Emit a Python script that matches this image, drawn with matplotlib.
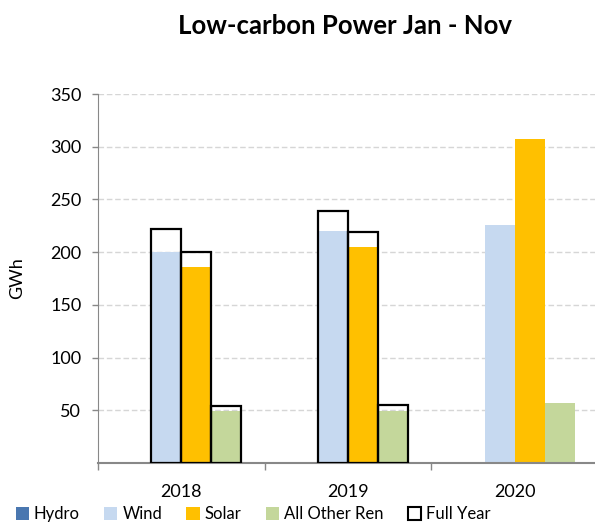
import matplotlib
matplotlib.use("Agg")
import matplotlib.pyplot as plt
from matplotlib.patches import Patch
import numpy as np

plt.rcParams['font.family'] = ['Lato', 'DejaVu Sans']

years = ["2018", "2019", "2020"]
hydro = [0, 0, 0]
wind = [200, 220, 226]
solar = [186, 205, 307]
other = [49, 49.5, 57]
full_wind = [222, 239, np.nan]
full_solar = [200, 219, np.nan]
full_other = [54, 55, np.nan]

c_hydro = "#4a77b0"
c_wind = "#c6d9f0"
c_solar = "#ffc000"
c_other = "#c4d79b"

fig = plt.figure(figsize=(5.95, 5.26), dpi=100)
ax = fig.add_axes([98/595, 63/526, 500/595, 369/526])

x = np.arange(len(years))
w = 0.18
ax.bar(x - 1.5*w, hydro, w, color=c_hydro, zorder=2)
ax.bar(x - 0.5*w, wind, w, color=c_wind, zorder=2)
ax.bar(x + 0.5*w, solar, w, color=c_solar, zorder=2)
ax.bar(x + 1.5*w, other, w, color=c_other, zorder=2)
for off, vals in [(-0.5, full_wind), (0.5, full_solar), (1.5, full_other)]:
    ax.bar(x + off*w, vals, w, facecolor="none", edgecolor="black", linewidth=1.6, zorder=3)

ax.set_xlim(-0.5, 2.5)
ax.set_ylim(0, 350)
ax.set_yticks([50, 100, 150, 200, 250, 300, 350])
ax.yaxis.grid(True, linestyle=(0, (4, 2)), color="#d6d6d6", linewidth=1.0, zorder=0)
ax.set_axisbelow(True)
ax.set_xticks(x)
ax.set_xticklabels(years)
ax.set_xticks([-0.5, 0.5, 1.5, 2.5], minor=True)
ax.tick_params(axis='x', which='major', length=0, pad=15, labelsize=13)
ax.tick_params(axis='x', which='minor', length=5, color="#888888", width=1)
ax.tick_params(axis='y', length=4, color="#888888", width=1, labelsize=13, pad=8)
for s in ['top', 'right']:
    ax.spines[s].set_visible(False)
ax.spines['left'].set_color("#888888")
ax.spines['bottom'].set_color("#888888")
ax.spines['bottom'].set_linewidth(1.5)
ax.set_ylabel("GWh", fontsize=13, labelpad=18)

fig.text(345/595, 1 - 26/526, "Low-carbon Power Jan - Nov", ha='center', va='center',
         fontsize=18.5, fontweight='bold')

handles = [Patch(facecolor=c_hydro, edgecolor='none', label='Hydro'),
           Patch(facecolor=c_wind, edgecolor='none', label='Wind'),
           Patch(facecolor=c_solar, edgecolor='none', label='Solar'),
           Patch(facecolor=c_other, edgecolor='none', label='All Other Ren'),
           Patch(facecolor='white', edgecolor='black', linewidth=1.5, label='Full Year')]
fig.legend(handles=handles, loc='center', bbox_to_anchor=(253/595, 12/526), ncol=5,
           frameon=False, fontsize=12, handlelength=0.8, handleheight=0.8,
           handletextpad=0.3, columnspacing=1.45, borderpad=0.1)

fig.savefig("out.png", dpi=100)
